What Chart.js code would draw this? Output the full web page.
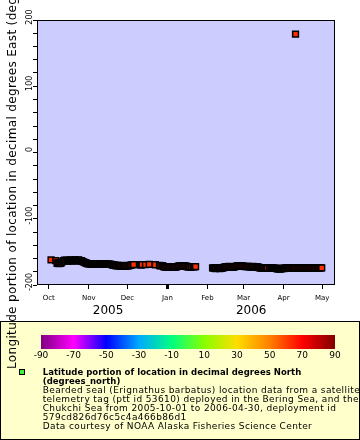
<!DOCTYPE html>
<html>
<head>
<meta charset="utf-8">
<script src="https://cdn.jsdelivr.net/npm/chart.js@4.4.1/dist/chart.umd.min.js"></script>
<style>
  html, body { margin: 0; padding: 0; background: #fff; }
  #wrap { width: 360px; height: 440px; }
</style>
</head>
<body>
<div id="wrap"><canvas id="sealPlot" width="360" height="440"></canvas></div>
<script>
// Fix times, in days after 2005-10-01 00:00 UTC
const obsDays = [
    // Oct - early Dec 2005
    1.8, 5.4, 6.5, 7.2, 7.9, 8.6, 9.4, 10.1, 10.9, 11.6,
    12.3, 13.0, 13.8, 14.5, 15.3, 16.1, 16.8, 17.6, 18.4, 19.1,
    19.9, 20.7, 21.4, 22.2, 23.0, 23.8, 24.6, 25.3, 26.1, 26.9,
    27.7, 28.5, 29.3, 30.0, 30.8, 31.6, 32.4, 33.2, 34.0, 34.7,
    35.5, 36.3, 37.1, 37.9, 38.6, 39.4, 40.2, 41.0, 41.8, 42.5,
    43.3, 44.1, 44.9, 45.7, 46.4, 47.2, 48.0, 48.8, 49.6, 50.3,
    51.1, 51.9, 52.7, 53.5, 54.2, 55.0, 55.8, 56.6, 57.4, 58.1,
    58.9, 59.7, 60.5, 61.3, 62.0, 62.8, 63.6, 64.5, 65.8,
    // Dec 2005 - Jan 2006
    70.9, 71.6, 72.3, 75.0, 77.9, 82.6, 85.9, 87.0, 88.3, 89.1,
    89.9, 90.7, 91.5, 92.3, 93.0, 93.8, 94.6, 95.4, 96.2, 96.9,
    97.7, 98.5, 99.3, 100.1, 100.8, 101.6, 102.4, 103.2, 104.0, 104.7,
    105.5, 106.3, 107.1, 107.9, 108.6, 109.4, 110.5, 111.8, 112.4, 113.0,
    113.8,
    // Feb - Apr 2006
    127.0, 127.8, 128.6, 129.4, 130.2, 130.9, 131.7, 132.5, 133.3, 134.1,
    134.9, 135.6, 136.4, 137.2, 138.0, 138.8, 139.6, 140.3, 141.1, 141.9,
    142.7, 143.5, 144.3, 145.0, 145.8, 146.6, 147.4, 148.2, 148.9, 149.7,
    150.5, 151.3, 152.1, 152.9, 153.7, 154.4, 155.2, 156.0, 156.8, 157.6,
    158.3, 159.1, 159.9, 160.7, 161.5, 162.3, 163.0, 163.8, 164.6, 165.4,
    166.2, 166.9, 167.7, 168.5, 169.3, 170.8, 172.1, 172.7, 173.5, 174.3,
    175.1, 175.8, 176.6, 177.4, 178.2, 179.0, 179.8, 180.5, 181.3, 182.1,
    182.9, 183.7, 184.4, 185.2, 186.0, 186.8, 187.6, 188.4, 189.1, 189.9,
    190.7, 191.3, 191.5, 192.3, 193.1, 193.8, 194.6, 195.4, 196.2, 197.0,
    197.7, 198.5, 199.3, 200.1, 200.9, 201.7, 202.4, 203.2, 204.0, 204.8,
    205.6, 206.3, 207.1, 207.9, 208.7, 209.5, 210.3, 210.9, 211.6
];

// Longitude, degrees East
const longitudes = [
    -162.2, -163.3, -167.2, -166.1, -167.6, -166.4, -167.3, -165.6, -164.2, -163.2,
    -162.6, -163.7, -162.4, -163.1, -164.0, -163.0, -162.2, -162.8, -163.9, -163.1,
    -162.5, -162.3, -163.4, -162.7, -162.1, -163.0, -163.8, -163.2, -164.3, -165.2,
    -165.9, -166.6, -167.2, -167.8, -168.1, -167.6, -168.3, -167.9, -168.5, -167.7,
    -168.2, -168.6, -167.9, -168.4, -168.0, -168.7, -168.2, -167.8, -168.5, -168.9,
    -168.3, -168.6, -168.1, -168.8, -168.4, -169.0, -168.6, -169.2, -169.7, -170.3,
    -169.8, -170.6, -171.2, -170.5, -170.9, -171.4, -170.8, -171.3, -170.6, -171.0,
    -171.6, -170.9, -171.3, -170.7, -171.2, -170.4, -170.0, -169.6, -169.3,

    -169.4, -169.7, -169.1, -169.2, -169.0, -169.4, -170.6, -171.1, -170.8, -172.3,
    -172.9, -172.4, -173.1, -172.6, -173.3, -172.8, -173.0, -172.5, -173.2, -172.7,
    -173.4, -172.9, -172.4, -172.0, -171.5, -171.2, -171.7, -171.0, -171.4, -171.9,
    -171.3, -171.6, -172.1, -172.6, -172.3, -172.8, -172.6, -172.2, -172.7, -172.4,
    -172.3,

    -174.0, -174.6, -174.3, -175.1, -174.8, -174.2, -174.7, -175.4, -174.9, -174.4,
    -174.0, -173.6, -173.1, -172.6, -172.2, -172.5, -172.1, -172.7, -172.3, -172.8,
    -173.2, -172.9, -172.4, -171.9, -171.4, -170.9, -171.3, -170.8, -171.5, -171.1,
    -171.6, -171.9, -172.3, -171.8, -172.4, -172.0, -172.6, -172.2, -172.8, -172.3,
    -172.0, -172.5, -172.9, -172.4, -172.7, -173.1, -173.6, -174.0, -174.5, -174.1,
    -174.6, -174.2, -174.8, -174.3, -174.6, -174.2, -174.5, -174.0, -174.4, -174.8,
    -174.3, -174.9, -175.3, -175.8, -175.4, -176.0, -175.6, -175.1, -174.7, -175.2,
    -174.8, -174.4, -174.1, -174.5, -174.2, -174.6, -174.0, -174.4, -174.1, -174.7,
    -174.3, 178.6, -174.5, -174.1, -174.6, -174.2, -174.5, -174.0, -174.4, -174.8,
    -174.3, -174.6, -174.1, -174.5, -174.9, -174.4, -174.0, -174.3, -174.7, -174.2,
    -174.5, -174.1, -174.6, -174.2, -174.5, -174.0, -174.3, -174.1, -174.0
];

// Latitude, degrees North (marker colour)
const latitudes = [
    63.2, 63.1, 62.9, 63.0, 62.8, 62.9, 63.0, 63.1, 63.2, 63.3,
    63.4, 63.3, 63.5, 63.4, 63.2, 63.3, 63.5, 63.4, 63.2, 63.3,
    63.4, 63.5, 63.3, 63.4, 63.6, 63.4, 63.2, 63.3, 63.1, 62.9,
    62.8, 62.6, 62.5, 62.4, 62.3, 62.4, 62.3, 62.4, 62.2, 62.4,
    62.3, 62.2, 62.4, 62.3, 62.4, 62.2, 62.3, 62.5, 62.3, 62.2,
    62.3, 62.2, 62.4, 62.2, 62.3, 62.1, 62.2, 62.1, 62.0, 61.9,
    62.0, 61.9, 61.8, 61.9, 61.8, 61.7, 61.8, 61.7, 61.9, 61.8,
    61.7, 61.8, 61.7, 61.9, 61.8, 62.0, 62.1, 62.2, 62.3,

    62.4, 62.3, 62.5, 62.4, 62.6, 62.5, 62.3, 62.2, 62.4, 62.1,
    62.0, 62.2, 61.9, 62.1, 61.8, 62.0, 61.9, 62.1, 61.8, 62.0,
    61.7, 61.9, 62.1, 62.3, 62.5, 62.6, 62.4, 62.7, 62.5, 62.3,
    62.6, 62.4, 62.2, 62.0, 62.1, 61.9, 62.0, 62.2, 62.0, 62.1,
    62.2,

    63.0, 62.9, 63.1, 62.8, 62.9, 63.0, 62.8, 62.7, 62.9, 63.0,
    63.1, 63.2, 63.3, 63.4, 63.5, 63.4, 63.6, 63.4, 63.5, 63.3,
    63.2, 63.3, 63.4, 63.6, 63.7, 63.9, 63.8, 64.0, 63.8, 63.9,
    63.7, 63.6, 63.5, 63.6, 63.4, 63.5, 63.3, 63.4, 63.2, 63.4,
    63.5, 63.3, 63.2, 63.4, 63.3, 63.1, 63.0, 62.9, 62.7, 62.8,
    62.7, 62.8, 62.6, 62.7, 62.6, 62.8, 62.7, 62.8, 62.7, 62.6,
    62.7, 62.5, 62.4, 62.3, 62.4, 62.2, 62.3, 62.5, 62.6, 62.4,
    62.5, 62.6, 62.7, 62.6, 62.7, 62.6, 62.8, 62.7, 62.8, 62.6,
    62.7, 62.9, 62.6, 62.7, 62.6, 62.7, 62.6, 62.8, 62.7, 62.6,
    62.7, 62.6, 62.7, 62.6, 62.5, 62.6, 62.7, 62.6, 62.5, 62.6,
    62.5, 62.6, 62.5, 62.6, 62.5, 62.6, 62.5, 62.6, 62.5
];

// Month ticks (days after 2005-10-01) and labels
const monthDays = [0, 31, 61, 92, 123, 151, 182, 212];
const monthLabels = ['Oct', 'Nov', 'Dec', 'Jan', 'Feb', 'Mar', 'Apr', 'May'];
const yearLabels = ['2005', '2006'];
const yearStartDays = [0, 92];

// Colour bar for latitude
const colorbarTicks = [-90, -70, -50, -30, -10, 10, 30, 50, 70, 90];
const paletteColors = ['#800080', '#ff00ff', '#0000ff', '#00aaff', '#00ff80',
    '#88ff00', '#ffdd00', '#ff8000', '#ff0000', '#800000'];

const yTitle = 'Longitude portion of location in decimal degrees East (degrees_east)';
const legendTitleLines = [
    'Latitude portion of location in decimal degrees North',
    '(degrees_north)'
];
const legendLines = [
    'Bearded seal (Erignathus barbatus) location data from a satellite',
    'telemetry tag (ptt id 53610) deployed in the Bering Sea, and the',
    'Chukchi Sea from 2005-10-01 to 2006-04-30, deployment id',
    '579cd826d76c5c4a466b86d1',
    'Data courtesy of NOAA Alaska Fisheries Science Center'
];

const xMin = -9.1;
const xMax = 221.9;
const yearCenters = [
    (yearStartDays[0] + yearStartDays[1]) / 2,
    (yearStartDays[1] + xMax) / 2
];

function hexToRgb(hex) {
    const n = parseInt(hex.slice(1), 16);
    return [(n >> 16) & 255, (n >> 8) & 255, n & 255];
}

function latColor(lat) {
    const lo = colorbarTicks[0];
    const step = colorbarTicks[1] - colorbarTicks[0];
    let t = (lat - lo) / step;
    t = Math.max(0, Math.min(paletteColors.length - 1, t));
    const i = Math.min(paletteColors.length - 2, Math.floor(t));
    const f = t - i;
    const a = hexToRgb(paletteColors[i]);
    const b = hexToRgb(paletteColors[i + 1]);
    const c = a.map((v, k) => Math.round(v + (b[k] - v) * f));
    return 'rgb(' + c.join(',') + ')';
}

// Panel, plot background, axis title, colour bar and legend
const erddapPlugin = {
    id: 'erddapPlugin',
    beforeDraw: (chart) => {
        const {ctx, width, height, chartArea: {left, top, right, bottom}} = chart;
        ctx.save();
        ctx.fillStyle = '#ffffff';
        ctx.fillRect(0, 0, width, height);
        ctx.fillStyle = '#ffffcc';
        ctx.fillRect(0, 321, width, height - 321);
        ctx.strokeStyle = '#000000';
        ctx.lineWidth = 1;
        ctx.strokeRect(0.5, 321.5, width - 1, height - 322);
        ctx.fillStyle = '#ccccff';
        ctx.fillRect(left, top, right - left, bottom - top);
        ctx.restore();
    },
    afterDatasetsDraw: (chart) => {
        const {ctx, chartArea: {left, top, right, bottom}} = chart;
        ctx.save();
        ctx.strokeStyle = '#000000';
        ctx.lineWidth = 1;
        ctx.strokeRect(left + 0.5, top + 0.5, right - left - 1, bottom - top - 1);
        ctx.restore();
    },
    afterDraw: (chart) => {
        const {ctx} = chart;
        const barLeft = 41, barRight = 335, barTop = 335, barHeight = 14;
        ctx.save();

        // y axis title, runs off the top like the original
        ctx.save();
        ctx.translate(13.2, 369);
        ctx.rotate(-Math.PI / 2);
        ctx.fillStyle = '#000000';
        ctx.font = '12px "DejaVu Sans"';
        ctx.letterSpacing = '0.35px';
        ctx.textAlign = 'left';
        ctx.textBaseline = 'middle';
        ctx.fillText(yTitle, 0, 0);
        ctx.restore();

        // colour bar
        const grad = ctx.createLinearGradient(barLeft, 0, barRight, 0);
        paletteColors.forEach((c, i) => grad.addColorStop(i / (paletteColors.length - 1), c));
        ctx.fillStyle = grad;
        ctx.fillRect(barLeft, barTop, barRight - barLeft, barHeight);

        ctx.fillStyle = '#000000';
        ctx.font = '9px "DejaVu Sans"';
        ctx.textAlign = 'center';
        ctx.textBaseline = 'middle';
        const lo = colorbarTicks[0], hi = colorbarTicks[colorbarTicks.length - 1];
        colorbarTicks.forEach((v) => {
            const x = barLeft + (v - lo) / (hi - lo) * (barRight - barLeft);
            ctx.fillText(String(v), x, 355.5);
        });

        // legend marker
        ctx.fillStyle = '#44ee44';
        ctx.fillRect(19.5, 369.5, 5, 5);
        ctx.strokeStyle = '#000000';
        ctx.lineWidth = 1;
        ctx.strokeRect(19.5, 369.5, 5, 5);

        // legend text
        ctx.fillStyle = '#000000';
        ctx.textAlign = 'left';
        ctx.font = 'bold 8.5px "DejaVu Sans"';
        ctx.letterSpacing = '0.05px';
        let y = 372.7;
        legendTitleLines.forEach((line) => {
            ctx.fillText(line, 42.7, y);
            y += 9;
        });
        ctx.font = '9px "DejaVu Sans"';
        ctx.letterSpacing = '0.38px';
        legendLines.forEach((line) => {
            ctx.fillText(line, 42.7, y);
            y += 9;
        });
        ctx.restore();
    }
};

Chart.defaults.font.family = '"DejaVu Sans"';
Chart.defaults.color = '#000000';

const ctx = document.getElementById('sealPlot').getContext('2d');

const sealChart = new Chart(ctx, {
    type: 'scatter',
    data: {
        datasets: [{
            label: 'Latitude portion of location in decimal degrees North',
            data: obsDays.map((d, i) => ({x: d, y: longitudes[i]})),
            pointStyle: 'rect',
            pointRadius: 4.1,
            pointHoverRadius: 4.1,
            pointBorderWidth: 1.5,
            pointBorderColor: '#000000',
            pointBackgroundColor: latitudes.map(latColor)
        }]
    },
    options: {
        responsive: false,
        animation: false,
        events: [],
        layout: {
            autoPadding: false,
            padding: {top: 20, right: 25, left: 0, bottom: 0}
        },
        plugins: {
            legend: {display: false},
            tooltip: {enabled: false}
        },
        scales: {
            x: {
                type: 'linear',
                position: 'bottom',
                min: xMin,
                max: xMax,
                afterBuildTicks: (scale) => {
                    scale.ticks = monthDays.map((v) => ({value: v}));
                },
                afterFit: (scale) => { scale.height = 17; },
                ticks: {
                    autoSkip: false,
                    maxRotation: 0,
                    padding: 5,
                    font: {size: 7},
                    callback: (value) => monthLabels[monthDays.indexOf(value)]
                },
                grid: {
                    drawOnChartArea: false,
                    tickLength: 4,
                    tickColor: '#000000',
                    tickWidth: (c) => (c.tick && c.tick.value === yearStartDays[1]) ? 3 : 1
                },
                border: {display: false}
            },
            xYear: {
                type: 'linear',
                position: 'bottom',
                weight: 1,
                min: xMin,
                max: xMax,
                afterBuildTicks: (scale) => {
                    scale.ticks = yearCenters.map((v) => ({value: v}));
                },
                afterFit: (scale) => { scale.height = 138; },
                ticks: {
                    autoSkip: false,
                    maxRotation: 0,
                    padding: 1.5,
                    font: {size: 12},
                    callback: (value, index) => yearLabels[index]
                },
                grid: {display: false, drawTicks: false},
                border: {display: false}
            },
            y: {
                type: 'linear',
                position: 'left',
                min: -200,
                max: 200,
                afterBuildTicks: (scale) => {
                    scale.ticks = Array.from({length: 21}, (_, i) => ({value: -200 + i * 20}));
                },
                afterFit: (scale) => { scale.width = 37; },
                ticks: {
                    autoSkip: false,
                    minRotation: 90,
                    maxRotation: 90,
                    crossAlign: 'center',
                    padding: -5.6,
                    labelOffset: -3,
                    font: {size: 8},
                    callback: (value) => (value % 100 === 0 ? String(value) : '')
                },
                grid: {
                    drawOnChartArea: false,
                    tickLength: 4,
                    tickColor: '#000000'
                },
                border: {display: false}
            }
        }
    },
    plugins: [erddapPlugin]
});
</script>
</body>
</html>
